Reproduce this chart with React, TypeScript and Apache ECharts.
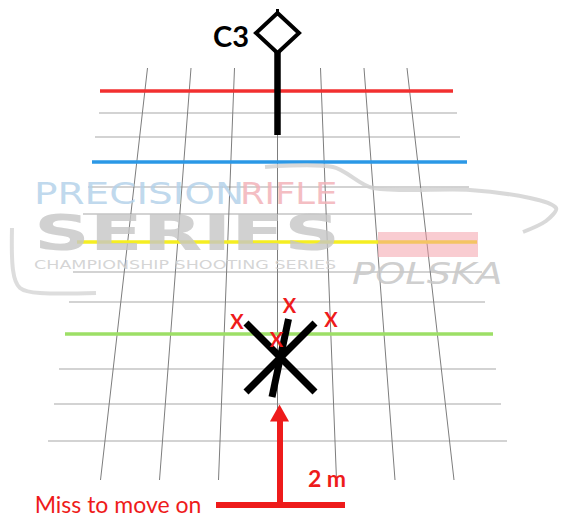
import React, { useEffect, useRef } from "react";
import * as echarts from "echarts";

// Perspective grid: vertical lines (top x at y=68, bottom x at y=480)
const vTopX = [147.5, 191, 234.5, 277.5, 320.5, 364, 407];
const vBotX = [100.5, 159.5, 218.5, 277.5, 336.5, 395, 454];
const vTopY = 68;
const vBotY = 480;

// Horizontal lines: y, left end, right end, kind
const hY = [91, 113, 137, 162, 187, 214, 242, 272, 302, 334, 369, 404, 441];
const hStart = [100, 99, 95, 92, 88, 83, 77, 73, 69, 65, 59, 54, 48];
const hEnd = [453, 457, 460, 467, 469, 472, 477, 482, 485, 493, 496, 501, 507];
const hKind = ["red", "grey", "grey", "blue", "grey", "grey", "yellow", "grey", "grey", "green", "grey", "grey", "grey"];

// Target C3: diamond + pole
const diamond = [[277.5, 13], [299, 33], [277.5, 53], [256, 33], [277.5, 13]];
const pole = [[277.5, 51], [277.5, 135]];
const nub = [[277.5, 9], [277.5, 14]];

// Black strike marks
const strikes = [
  [[246, 323], [315, 392]],
  [[315, 323], [246, 392]],
  [[288.5, 319], [272, 397]],
];

// Red "X" hit labels
const hitX = [[237, 321], [289.5, 305], [331, 319], [276.5, 339]];

// Red arrow
const arrowShaft = [[279.5, 418], [279.5, 505]];
const arrowHead = [279.5, 413];
const baseBar = [[216, 505], [345, 505]];

const kindColor: Record<string, string> = {
  red: "#f23030",
  blue: "#2b98e6",
  yellow: "#f5ee22",
  green: "#9ddf66",
  grey: "#c4c4c4",
};

export default function App() {
  const ref = useRef<HTMLDivElement>(null);
  useEffect(() => {
    const chart = echarts.init(ref.current!, null, { renderer: "svg" });

    const gridLines: any[] = [];
    vTopX.forEach((x, i) => {
      gridLines.push({
        coords: [[x, vTopY], [vBotX[i], vBotY]],
        lineStyle: { color: "#7d7d7d", width: 1, opacity: 1 },
      });
    });
    const greyH: any[] = [];
    const colorH: any[] = [];
    hY.forEach((y, i) => {
      const k = hKind[i];
      const item = {
        coords: [[hStart[i], y], [hEnd[i], y]],
        lineStyle: { color: kindColor[k], width: k === "grey" ? 1.5 : 3.5, opacity: 1 },
      };
      if (k === "grey") greyH.push(item);
      else colorH.push(item);
    });

    const red = "#ee1b1b";
    const solid = (color: string, width: number, extra: any = {}) => ({ color, width, opacity: 1, ...extra });
    const lbl = (text: string, color: string, size: number, bold: boolean) => ({
      formatter: text,
      color,
      opacity: 1,
      fontFamily: "Lato",
      fontWeight: bold ? "bold" : "normal",
      fontSize: size,
      lineHeight: size,
    });

    const option: any = {
      animation: false,
      backgroundColor: "#ffffff",
      grid: { left: 0, right: 0, top: 0, bottom: 0 },
      xAxis: { type: "value", min: 0, max: 561, show: false },
      yAxis: { type: "value", min: 0, max: 518, inverse: true, show: false },
      series: [
        {
          type: "lines",
          coordinateSystem: "cartesian2d",
          silent: true,
          z: 1,
          lineStyle: { opacity: 1 },
          data: greyH,
        },
        {
          type: "lines",
          coordinateSystem: "cartesian2d",
          silent: true,
          z: 2,
          lineStyle: { opacity: 1 },
          data: gridLines,
        },
        {
          type: "lines",
          coordinateSystem: "cartesian2d",
          silent: true,
          z: 3,
          lineStyle: { opacity: 1 },
          data: colorH,
        },
        {
          type: "lines",
          coordinateSystem: "cartesian2d",
          polyline: true,
          silent: true,
          z: 5,
          lineStyle: { opacity: 1 },
          data: [{ coords: diamond, lineStyle: solid("#000", 4, { join: "miter" }) }],
        },
        {
          type: "lines",
          coordinateSystem: "cartesian2d",
          silent: true,
          z: 5,
          lineStyle: { opacity: 1 },
          data: [
            { coords: pole, lineStyle: solid("#000", 6.5) },
            { coords: nub, lineStyle: solid("#000", 3) },
            ...strikes.map((s) => ({ coords: s, lineStyle: solid("#000", 7, { cap: "butt" }) })),
            { coords: arrowShaft, lineStyle: solid(red, 6) },
            { coords: baseBar, lineStyle: solid(red, 6) },
          ],
        },
        {
          type: "scatter",
          silent: true,
          z: 6,
          symbol: "triangle",
          symbolSize: [19, 17],
          itemStyle: { color: red, opacity: 1 },
          data: [arrowHead],
        },
        {
          type: "scatter",
          silent: true,
          z: 7,
          symbolSize: 0,
          itemStyle: { opacity: 1 },
          label: {
            show: true,
            position: "inside",
            align: "center",
            verticalAlign: "middle",
          },
          data: [
            { value: [231, 35], label: lbl("C3", "#000", 29, true) },
            ...hitX.map((p) => ({ value: p, label: lbl("X", red, 20, true) })),
            { value: [327, 478], label: lbl("2 m", red, 23, true) },
            { value: [118, 504], label: lbl("Miss to move on", red, 23, false) },
          ],
        },
      ],
      graphic: [
        // watermark: car swoosh
        {
          type: "polyline",
          silent: true,
          z: 10,
          shape: { points: [[265, 167], [333, 167], [373, 188], [470, 190], [530, 198], [556, 208], [546, 221], [523, 232]], smooth: 0.3 },
          style: { stroke: "#d0d0d0", lineWidth: 4, fill: null, opacity: 0.8 },
        },
        {
          type: "polyline",
          silent: true,
          z: 10,
          shape: { points: [[12, 228], [13, 270], [20, 288], [40, 293], [96, 293]], smooth: 0.3 },
          style: { stroke: "#d4d4d4", lineWidth: 4, fill: null, opacity: 0.8 },
        },
        // pink brush stripe
        {
          type: "rect",
          silent: true,
          z: 10,
          shape: { x: 378, y: 232, width: 100, height: 25 },
          style: { fill: "#f39aa4", opacity: 0.5 },
        },
        {
          type: "text",
          silent: true,
          z: 10,
          x: 34,
          y: 194,
          scaleX: 1.3,
          style: { text: "PRECISION", fill: "#b5d2ea", font: "30px 'DejaVu Sans'", verticalAlign: "middle", opacity: 0.85 },
        },
        {
          type: "text",
          silent: true,
          z: 10,
          x: 240,
          y: 194,
          scaleX: 1.18,
          style: { text: "RIFLE", fill: "#f2b3b9", font: "30px 'DejaVu Sans'", verticalAlign: "middle", opacity: 0.85 },
        },
        {
          type: "text",
          silent: true,
          z: 10,
          x: 34,
          y: 232,
          scaleX: 1.55,
          style: { text: "SERIES", fill: "#c6c6c6", font: "bold 50px 'DejaVu Sans'", verticalAlign: "middle", opacity: 0.8 },
        },
        {
          type: "text",
          silent: true,
          z: 10,
          x: 34,
          y: 265,
          scaleX: 1.46,
          style: { text: "CHAMPIONSHIP SHOOTING SERIES", fill: "#d0d0d0", font: "12px 'DejaVu Sans'", verticalAlign: "middle", opacity: 0.9 },
        },
        {
          type: "text",
          silent: true,
          z: 10,
          x: 352,
          y: 274,
          scaleX: 1.28,
          style: { text: "POLSKA", fill: "#c9c9c9", font: "italic 30px 'DejaVu Sans'", verticalAlign: "middle", opacity: 0.9 },
        },
      ],
    };
    chart.setOption(option);
    return () => chart.dispose();
  }, []);
  return (
    <div
      ref={ref}
      style={{ position: "fixed", left: 0, top: 0, width: 561, height: 518, background: "#fff" }}
    />
  );
}
